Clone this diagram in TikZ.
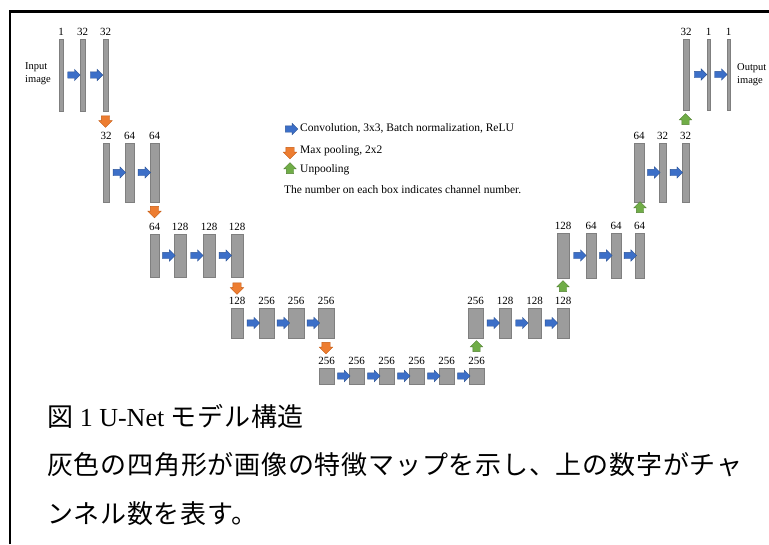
\documentclass[tikz,border=0pt]{standalone}
\usepackage{fontspec}
\setmainfont{Liberation Serif}
\newfontfamily\jpfont[LetterSpace=3]{Noto Sans CJK JP}
\usetikzlibrary{shapes.arrows,fit,calc}
\definecolor{barfill}{HTML}{9C9C9C}
\definecolor{barline}{HTML}{7F7F7F}
\definecolor{convblue}{HTML}{3C6FC8}
\definecolor{convline}{HTML}{2E5597}
\definecolor{poolorange}{HTML}{ED7D31}
\definecolor{poolline}{HTML}{C55A11}
\definecolor{unpoolgreen}{HTML}{70AD47}
\definecolor{unpoolline}{HTML}{548235}
\tikzset{
  fbar/.style={draw=barline, fill=barfill, line width=0.6pt, inner sep=0pt, outer sep=0pt},
  numlab/.style={font=\fontsize{11}{12}\selectfont, anchor=base, inner sep=0pt},
  smalltxt/.style={font=\fontsize{10.5}{13}\selectfont, inner sep=0pt, align=left},
  legtxt/.style={font=\fontsize{11.5}{13}\selectfont, inner sep=0pt, anchor=west},
  blockarrow/.style={single arrow, single arrow head extend=2.5pt, inner xsep=0pt, inner ysep=3pt, line width=0.4pt, minimum height=12.5pt},
  conv/.style={blockarrow, fill=convblue, draw=convline},
  pool/.style={blockarrow, fill=poolorange, draw=poolline, inner ysep=4pt, minimum height=11.5pt, rotate=-90},
  unpool/.style={blockarrow, fill=unpoolgreen, draw=unpoolline, inner ysep=3.5pt, minimum height=11pt, rotate=90},
  capt/.style={font=\jpfont\fontsize{26}{30}\selectfont, inner sep=0pt, anchor=base west},
}
\newcommand\fmap[6]{%
  \node[fbar, fit={(#2,#3) (#4,#5)}] (#1) {};
  \node[numlab] (#1n) at ([yshift=4pt]#1.north) {#6};}
\newcommand\convarrow[3]{\node[conv] (#1) at ($(#2.east)!0.55!(#3.west)$) {};}
\begin{document}
\begin{tikzpicture}[x=1pt, y=-1pt]
\useasboundingbox (0,0) rectangle (769,544);
\fill[white] (0,0) rectangle (769,544);
% frame
\draw[line width=2.5pt] (9.75,544) -- (9.75,11.5) -- (769,11.5);
% ---- encoder level 1
\fmap{a1}{59}{39}{63}{111}{1}
\fmap{a2}{80}{39}{85}{111}{32}
\fmap{a3}{103}{39}{108}{111}{32}
\convarrow{a12}{a1}{a2}
\convarrow{a23}{a2}{a3}
\node[smalltxt, anchor=west] (inp) at (25,74) {Input\\image};
% level 2
\fmap{b1}{103}{143}{109}{202}{32}
\fmap{b2}{125}{143}{134}{202}{64}
\fmap{b3}{150}{143}{159}{202}{64}
\convarrow{b12}{b1}{b2}
\convarrow{b23}{b2}{b3}
% level 3
\fmap{c1}{150}{234}{159}{277}{64}
\fmap{c2}{174}{234}{186}{277}{128}
\fmap{c3}{203}{234}{215}{277}{128}
\fmap{c4}{231}{234}{243}{277}{128}
\convarrow{c12}{c1}{c2}
\convarrow{c23}{c2}{c3}
\convarrow{c34}{c3}{c4}
% level 4
\fmap{d1}{231}{308}{243}{338}{128}
\fmap{d2}{259}{308}{274}{338}{256}
\fmap{d3}{288}{308}{304}{338}{256}
\fmap{d4}{318}{308}{334}{338}{256}
\convarrow{d12}{d1}{d2}
\convarrow{d23}{d2}{d3}
\convarrow{d34}{d3}{d4}
% bottom level
\fmap{e1}{319}{368}{334}{384}{256}
\fmap{e2}{349}{368}{364}{384}{256}
\fmap{e3}{379}{368}{394}{384}{256}
\fmap{e4}{409}{368}{424}{384}{256}
\fmap{e5}{439}{368}{454}{384}{256}
\fmap{e6}{469}{368}{484}{384}{256}
\convarrow{e12}{e1}{e2}
\convarrow{e23}{e2}{e3}
\convarrow{e34}{e3}{e4}
\convarrow{e45}{e4}{e5}
\convarrow{e56}{e5}{e6}
% decoder level 4
\fmap{f1}{468}{308}{483}{338}{256}
\fmap{f2}{499}{308}{511}{338}{128}
\fmap{f3}{528}{308}{541}{338}{128}
\fmap{f4}{557}{308}{569}{338}{128}
\convarrow{f12}{f1}{f2}
\convarrow{f23}{f2}{f3}
\convarrow{f34}{f3}{f4}
% decoder level 3
\fmap{g1}{557}{233}{569}{278}{128}
\fmap{g2}{586}{233}{596}{278}{64}
\fmap{g3}{611}{233}{621}{278}{64}
\fmap{g4}{635}{233}{644}{278}{64}
\convarrow{g12}{g1}{g2}
\convarrow{g23}{g2}{g3}
\convarrow{g34}{g3}{g4}
% decoder level 2
\fmap{h1}{634}{143}{644}{202}{64}
\fmap{h2}{659}{143}{666}{202}{32}
\fmap{h3}{682}{143}{689}{202}{32}
\convarrow{h12}{h1}{h2}
\convarrow{h23}{h2}{h3}
% decoder level 1
\fmap{i1}{683}{39}{689}{110}{32}
\fmap{i2}{707}{39}{710}{110}{1}
\fmap{i3}{727}{39}{730}{110}{1}
\convarrow{i12}{i1}{i2}
\convarrow{i23}{i2}{i3}
\node[smalltxt, anchor=west] (outp) at (737,75) {Output\\image};
% pooling arrows
\node[pool] (p1) at (105.5,119.5) {};
\node[pool] (p2) at (154.5,210) {};
\node[pool] (p3) at (237,286.5) {};
\node[pool] (p4) at (326,346) {};
% unpooling arrows
\node[unpool] (u1) at (476.5,348) {};
\node[unpool] (u2) at (563,288) {};
\node[unpool] (u3) at (640,209) {};
\node[unpool] (u4) at (685.5,121) {};
% legend
\node[conv] (lg1) at (290,129) {};
\node[pool] (lg2) at (290,151) {};
\node[unpool] (lg3) at (290,170) {};
\node[legtxt] (lt1) at (300,128.5) {Convolution, 3x3, Batch normalization, ReLU};
\node[legtxt] (lt2) at (300,150.5) {Max pooling, 2x2};
\node[legtxt] (lt3) at (300,170) {Unpooling};
\node[legtxt] (lt4) at (284,189.5) {The number on each box indicates channel number.};
% caption
\node[capt] (cap1) at (47,426) {図 {\rmfamily\fontsize{26}{30}\selectfont 1 U-Net} モデル構造};
\node[capt] (cap2) at (47,474.5) {灰色の四角形が画像の特徴マップを示し、上の数字がチャ};
\node[capt] (cap3) at (47,523) {ンネル数を表す。};
\end{tikzpicture}
\end{document}
